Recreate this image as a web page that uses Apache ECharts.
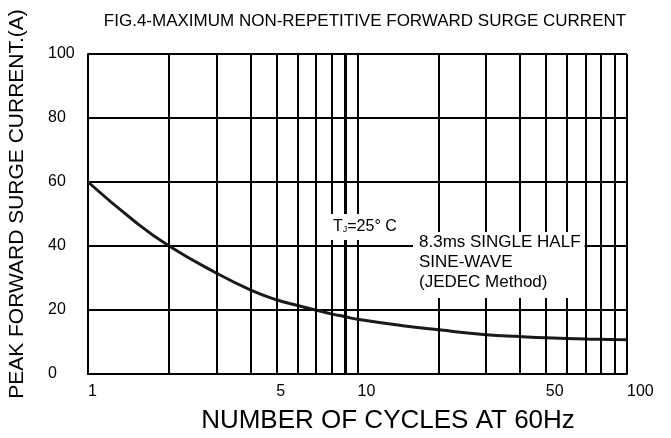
<!DOCTYPE html>
<html>
<head>
<meta charset="utf-8">
<script src="https://cdn.jsdelivr.net/npm/echarts@6/dist/echarts.min.js"></script>
<style>
html,body{margin:0;padding:0;background:#fff;}
#c{width:671px;height:438px;}
</style>
</head>
<body>
<div id="c"></div>
<script>
// Data
const cycles = [1, 1.5, 2, 3, 4, 5, 6, 7, 8, 9, 10, 15, 20, 30, 40, 50, 60, 70, 80, 90, 100];
const current = [60, 47.5, 40, 31.5, 26.3, 23.2, 21.4, 20, 18.8, 17.9, 17.1, 15, 13.8, 12.3, 11.7, 11.3, 11.1, 10.95, 10.85, 10.75, 10.7];
const xLabelValues = [1, 5, 10, 50, 100];
const xMinorGrid = [2, 3, 4, 5, 6, 7, 8, 9, 20, 30, 40, 50, 60, 70, 80, 90];
const yTicks = [0, 20, 40, 60, 80, 100];

const FONT = '"Liberation Sans", Arial, sans-serif';
const chart = echarts.init(document.getElementById('c'), null, {renderer: 'canvas'});

const seriesData = cycles.map((c, i) => [c, current[i]]);

chart.setOption({
  animation: false,
  backgroundColor: '#fff',
  title: {
    text: 'FIG.4-MAXIMUM NON-REPETITIVE FORWARD SURGE CURRENT',
    left: 360, top: 8, textAlign: 'center',
    textStyle: {fontFamily: FONT, fontSize: 17, fontWeight: 'normal', color: '#000'}
  },
  grid: {left: 88, right: 44, top: 54, bottom: 64, containLabel: false},
  xAxis: {
    type: 'log', logBase: 10, min: 1, max: 100,
    axisLine: {show: true, lineStyle: {color: '#000', width: 2}},
    axisTick: {show: false},
    splitLine: {show: true, lineStyle: {color: '#000', width: 2}},
    axisLabel: {
      customValues: xLabelValues,
      align: 'left', margin: 10, fontSize: 16, fontFamily: FONT, color: '#000',
      showMinLabel: true, showMaxLabel: true
    }
  },
  yAxis: {
    type: 'value', min: 0, max: 100, interval: 20,
    axisLine: {show: true, lineStyle: {color: '#000', width: 2}},
    axisTick: {show: false},
    splitLine: {show: true, lineStyle: {color: '#000', width: 2}},
    axisLabel: {
      align: 'left', margin: 40, fontSize: 16, fontFamily: FONT, color: '#000',
      verticalAlign: 'middle', padding: [0, 0, 8, 0]
    }
  },
  series: [{
    type: 'line',
    data: seriesData,
    smooth: true,
    symbol: 'none',
    lineStyle: {color: '#1a1a1a', width: 3},
    z: 3,
    markLine: {
      silent: true, symbol: 'none', animation: false,
      label: {show: false},
      lineStyle: {color: '#000', width: 2, type: 'solid'},
      data: xMinorGrid.map(v => ({xAxis: v, lineStyle: {width: v === 9 ? 3 : 2}}))
    }
  }],
  graphic: [
    {
      type: 'text', x: 17, y: 204, rotation: Math.PI / 2, z: 100,
      style: {text: 'PEAK FORWARD SURGE CURRENT.(A)', font: '21px ' + FONT, fill: '#000', align: 'center', verticalAlign: 'middle'}
    },
    {
      type: 'text', x: 388, y: 421, z: 100,
      style: {text: 'NUMBER OF CYCLES AT 60Hz', font: '26px ' + FONT, fill: '#000', align: 'center', verticalAlign: 'middle'}
    },
    {
      type: 'text', x: 330, y: 214, z: 100,
      style: {
        text: 'T{s|J}=25° C',
        rich: {s: {fontSize: 9, fontFamily: FONT, fill: '#000', padding: [6, 0, 0, 0]}},
        font: '16px ' + FONT, fill: '#000', align: 'left', verticalAlign: 'top',
        backgroundColor: '#fff', padding: [5, 4, 5, 3]
      }
    },
    {
      type: 'text', x: 413, y: 232, z: 100,
      style: {
        text: '8.3ms SINGLE HALF\nSINE-WAVE\n(JEDEC Method)',
        font: '17px ' + FONT, fill: '#000', align: 'left', verticalAlign: 'top',
        lineHeight: 20, backgroundColor: '#fff', padding: [0, 4, 6, 6]
      }
    }
  ]
});
</script>
</body>
</html>
